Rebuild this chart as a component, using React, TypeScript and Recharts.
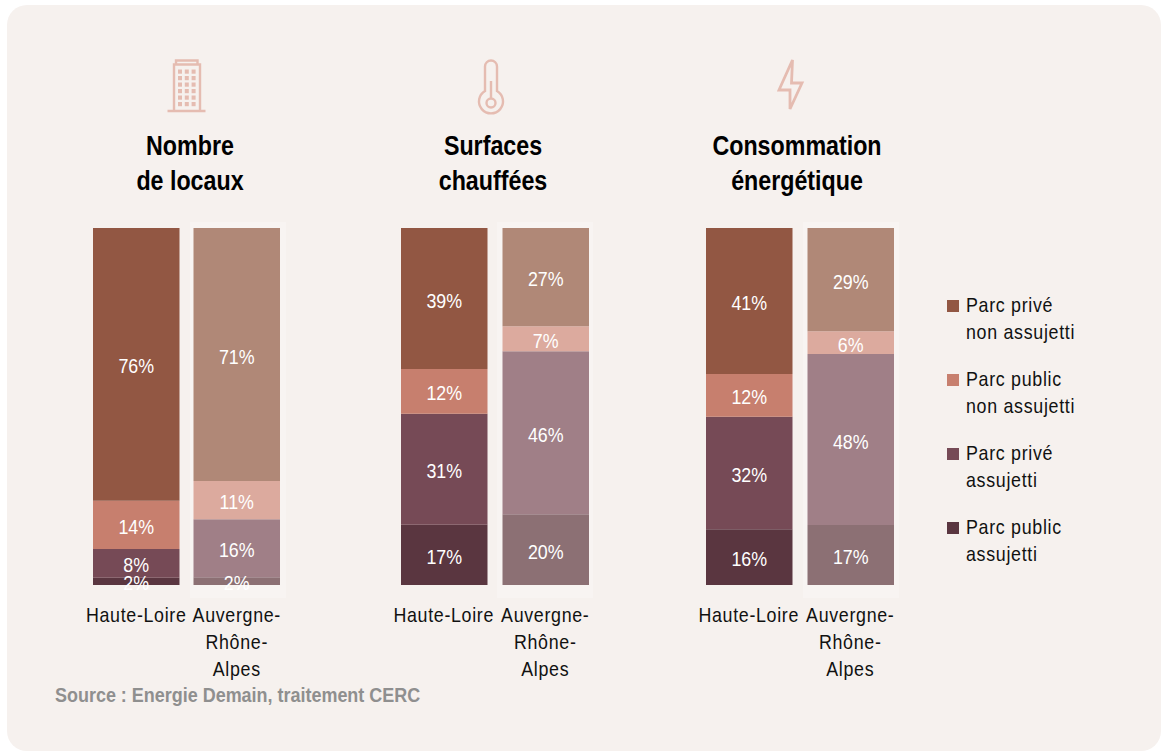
import { BarChart, Bar, XAxis, YAxis, Cell, LabelList } from "recharts"

const regions = ["Haute-Loire", "Auvergne-Rhône-Alpes"]

// bottom to top of the stack
const localPublicAssujetti = [2, 2.2]
const localPriveAssujetti = [8.1, 16.2]
const localPublicNon = [13.5, 10.7]
const localPriveNon = [76.4, 70.9]

const surfacePublicAssujetti = [16.9, 19.8]
const surfacePriveAssujetti = [31.1, 45.7]
const surfacePublicNon = [12.49, 7]
const surfacePriveNon = [39.49, 27.49]

const consoPublicAssujetti = [15.6, 16.8]
const consoPriveAssujetti = [31.5, 47.9]
const consoPublicNon = [12, 6.4]
const consoPriveNon = [40.9, 28.9]

const seriesNames = ["Parc public assujetti", "Parc privé assujetti", "Parc public non assujetti", "Parc privé non assujetti"]
const strongColors = ["#5a3640", "#764a56", "#c77f6e", "#925743"]
const softColors = ["#8c7074", "#a07f87", "#dcaa9e", "#b08877"]

const legendRows = [
  { color: "#925743", lines: ["Parc privé", "non assujetti"] },
  { color: "#c77f6e", lines: ["Parc public", "non assujetti"] },
  { color: "#764a56", lines: ["Parc privé", "assujetti"] },
  { color: "#5a3640", lines: ["Parc public", "assujetti"] },
]

const FONT = '"Liberation Sans", sans-serif'
const NARROW = 0.85 // no condensed face installed, so squeeze the text
const TOP = 228
const PLOT_HEIGHT = 357
const AXIS_HEIGHT = 110

const buildRows = (series: number[][]) =>
  regions.map((region, i) => {
    const row: Record<string, number | string> = { region }
    seriesNames.forEach((name, s) => {
      row[name] = series[s][i]
    })
    return row
  })

function RegionTick({ x, payload }: any) {
  const lines = payload.value === "Haute-Loire" ? ["Haute-Loire"] : ["Auvergne-", "Rhône-", "Alpes"]
  return (
    <text
      transform={`translate(${x},${PLOT_HEIGHT + 37}) scale(${NARROW},1)`}
      textAnchor="middle"
      fontFamily={FONT}
      fontSize={21}
      fill="#111"
      letterSpacing={0.8}
    >
      {lines.map((line, i) => (
        <tspan key={line} x={0} dy={i === 0 ? 0 : 27}>
          {line}
        </tspan>
      ))}
    </text>
  )
}

function PercentLabel({ x, y, width, height, value }: any) {
  const cx = x + width / 2
  const cy = y + height / 2
  return (
    <text
      transform={`translate(${cx},${cy + 9}) scale(${NARROW},1)`}
      textAnchor="middle"
      fontFamily={FONT}
      fontSize={21}
      fill="#fff"
    >
      {`${Math.round(value)}%`}
    </text>
  )
}

function StackedPanel({ rows, left, width }: { rows: any[]; left: number; width: number }) {
  return (
    <div style={{ position: "absolute", left, top: TOP, zIndex: 1 }}>
      <BarChart
        width={width}
        height={PLOT_HEIGHT + AXIS_HEIGHT}
        data={rows}
        margin={{ top: 0, right: 0, bottom: 0, left: 0 }}
        barCategoryGap={0}
        barSize={86.5}
      >
        <XAxis
          dataKey="region"
          axisLine={false}
          tickLine={false}
          interval={0}
          height={AXIS_HEIGHT}
          tick={<RegionTick />}
        />
        <YAxis hide domain={[0, 100]} />
        {seriesNames.map((name, s) => (
          <Bar key={name} dataKey={name} stackId="a" isAnimationActive={false}>
            {rows.map((row) => (
              <Cell key={row.region} fill={row.region === "Haute-Loire" ? strongColors[s] : softColors[s]} />
            ))}
            <LabelList dataKey={name} content={<PercentLabel />} />
          </Bar>
        ))}
      </BarChart>
    </div>
  )
}

function PanelTitle({ lines, center }: { lines: string[]; center: number }) {
  return (
    <div
      style={{
        position: "absolute",
        left: center - 150,
        width: 300,
        top: 128,
        textAlign: "center",
        fontFamily: FONT,
        fontWeight: 700,
        fontSize: 28,
        lineHeight: "35px",
        color: "#000",
        transform: "scaleX(0.83)",
      }}
    >
      {lines.map((line) => (
        <div key={line}>{line}</div>
      ))}
    </div>
  )
}

function Icons() {
  const stroke = "#e5bcb1"
  const windows = []
  for (let r = 0; r < 6; r++) {
    for (let c = 0; c < 3; c++) {
      windows.push(<rect key={`${r}-${c}`} x={178 + c * 6.8} y={69.5 + r * 6.5} width={4} height={4.2} fill={stroke} />)
    }
  }
  return (
    <svg width={1168} height={130} style={{ position: "absolute", left: 0, top: 0 }}>
      {/* building */}
      <path d="M174 110V64.5H200V110M176 64.5V60.5H197.5V64.5M167.5 111H205.5" fill="none" stroke={stroke} strokeWidth={2.4} />
      {windows}
      {/* thermometer */}
      <path
        d="M485 91V66.5a6 6 0 0 1 12 0V91a12 12 0 1 1 -12 0Z"
        fill="none"
        stroke={stroke}
        strokeWidth={2.4}
      />
      <circle cx={491} cy={103} r={4.5} fill="none" stroke={stroke} strokeWidth={2.4} />
      <path d="M491 81V98" fill="none" stroke={stroke} strokeWidth={2.4} />
      {/* bolt */}
      <path d="M792.5 60L779 90H790L790 109L802 83H791.5Z" fill="none" stroke={stroke} strokeWidth={2.8} />
    </svg>
  )
}

export default function App() {
  return (
    <div style={{ position: "absolute", left: 0, top: 0, width: 1168, height: 751, background: "#fff", overflow: "hidden" }}>
      <div style={{ position: "absolute", left: 7, top: 5, width: 1154, height: 746, background: "#f6f1ee", borderRadius: 20 }} />
      {[190, 497, 803].map((left) => (
        <div key={left} style={{ position: "absolute", left, top: 222, width: 96, height: 376, background: "#f8f4f2" }} />
      ))}

      <Icons />
      <PanelTitle lines={["Nombre", "de locaux"]} center={190} />
      <PanelTitle lines={["Surfaces", "chauffées"]} center={493} />
      <PanelTitle lines={["Consommation", "énergétique"]} center={797} />

      <StackedPanel
        rows={buildRows([localPublicAssujetti, localPriveAssujetti, localPublicNon, localPriveNon])}
        left={86}
        width={201}
      />
      <StackedPanel
        rows={buildRows([surfacePublicAssujetti, surfacePriveAssujetti, surfacePublicNon, surfacePriveNon])}
        left={392.5}
        width={203}
      />
      <StackedPanel
        rows={buildRows([consoPublicAssujetti, consoPriveAssujetti, consoPublicNon, consoPriveNon])}
        left={698}
        width={203}
      />

      {legendRows.map((row, i) => (
        <div key={i} style={{ position: "absolute", left: 947, top: 292 + i * 74 }}>
          <div style={{ position: "absolute", left: 0, top: 8, width: 12, height: 12, background: row.color }} />
          <div
            style={{
              position: "absolute",
              left: 19,
              top: -1,
              whiteSpace: "nowrap",
              fontFamily: FONT,
              fontSize: 21,
              lineHeight: "27px",
              color: "#111",
              letterSpacing: 0.8,
              transform: `scaleX(${NARROW})`,
              transformOrigin: "left",
            }}
          >
            {row.lines.map((line) => (
              <div key={line}>{line}</div>
            ))}
          </div>
        </div>
      ))}

      <div
        style={{
          position: "absolute",
          left: 55,
          top: 683,
          fontFamily: FONT,
          fontWeight: 700,
          fontSize: 21,
          color: "#8f8f8f",
          whiteSpace: "nowrap",
          transform: "scaleX(0.855)",
          transformOrigin: "left",
        }}
      >
        Source : Energie Demain, traitement CERC
      </div>
    </div>
  )
}
